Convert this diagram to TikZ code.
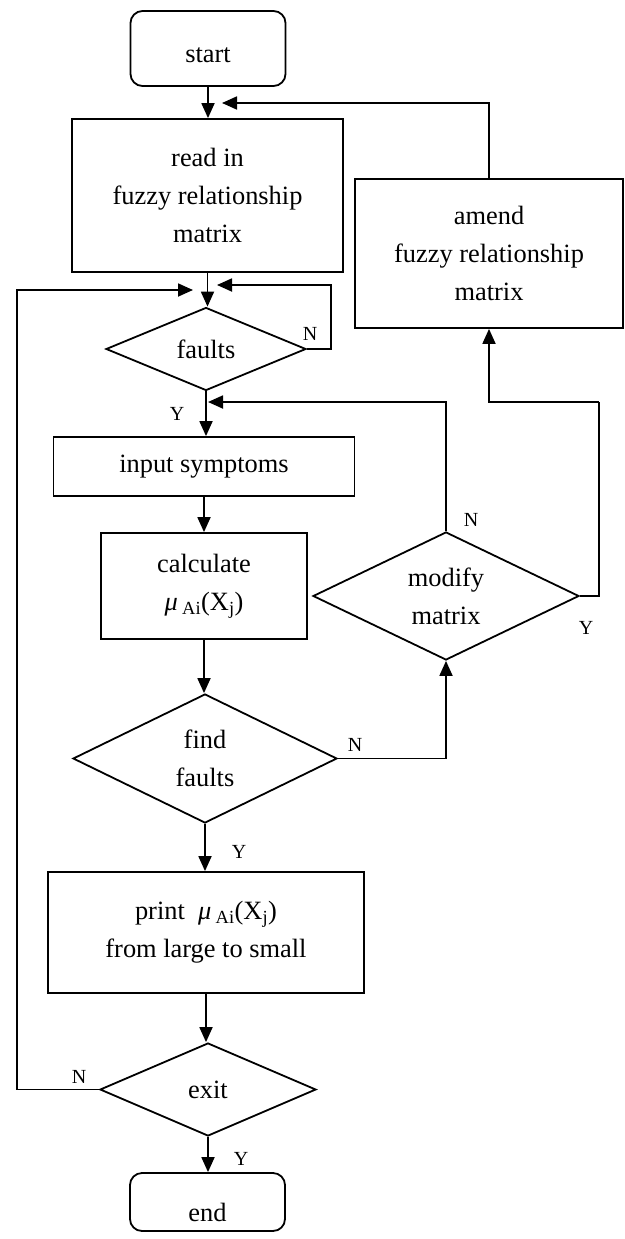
\documentclass[tikz,border=0pt]{standalone}
\usepackage{fontspec}
\setmainfont{Liberation Serif}
\usetikzlibrary{arrows.meta,shapes.geometric}
\begin{document}
\begin{tikzpicture}[x=1pt,y=-1pt,
  every node/.style={font=\fontsize{26.4}{38}\selectfont, inner sep=0pt, align=center},
  box/.style={draw, line width=1.8pt, rectangle},
  term/.style={draw, line width=1.8pt, rectangle, rounded corners=12pt},
  dec/.style={draw, line width=1.8pt, diamond},
  lbl/.style={font=\fontsize{20}{20}\selectfont},
  arr/.style={line width=1.8pt, -{Triangle[length=15pt,width=13pt]}},
  ln/.style={line width=1.8pt}]
\useasboundingbox (0,0) rectangle (624,1239);

\node[term, minimum width=155pt, minimum height=75pt, text height=28pt, text depth=0pt] (start) at (208,48.5) {start};
\node[box, minimum width=271pt, minimum height=153pt] (read) at (207.5,195.5) {read in\\fuzzy relationship\\matrix};
\node[dec, minimum width=200pt, minimum height=83pt, shape aspect=2.4] (faults) at (206,349) {faults};
\node[box, minimum width=301pt, minimum height=59pt] (input) at (204,466.5) {input symptoms};
\node[box, minimum width=206pt, minimum height=106pt] (calc) at (204,586) {calculate\\{\itshape μ}\,\textsubscript{Ai}(X\textsubscript{j})};
\node[dec, minimum width=264pt, minimum height=129pt, shape aspect=2] (find) at (205,758.5) {find\\faults};
\node[dec, minimum width=266pt, minimum height=128pt, shape aspect=2] (modify) at (446,596) {modify\\matrix};
\node[box, minimum width=268pt, minimum height=149pt] (amend) at (489,253.5) {amend\\fuzzy relationship\\matrix};
\node[box, minimum width=316pt, minimum height=121pt] (print) at (206,932.5) {print\ \ {\itshape μ}\,\textsubscript{Ai}(X\textsubscript{j})\\from large to small};
\node[dec, minimum width=216pt, minimum height=93pt, shape aspect=2.3] (exit) at (208,1089.5) {exit};
\node[term, minimum width=155pt, minimum height=58pt, text height=38pt, text depth=0pt] (end) at (207.5,1202) {end};

\coordinate (j1) at (222,103);
\coordinate (lx) at (17,290);
\coordinate (j2) at (193,290);
\coordinate (rx) at (331,285);
\coordinate (j3) at (217,285);
\coordinate (j4) at (208,402);
\coordinate (m1) at (599,402);

\draw[arr] (start.south) -- (start.south |- read.north);
\draw[arr] (amend.north) |- (j1);
\draw[arr] (read.south) -- (read.south |- faults.north);
\draw[arr] (exit.west) -| (lx) -- (j2);
\draw[arr] (faults.east) -| (rx) -- (j3);
\draw[arr] (faults.south) -- (faults.south |- input.north);
\draw[arr] (modify.north) |- (j4);
\draw[arr] (input.south) -- (input.south |- calc.north);
\draw[arr] (calc.south) -- (calc.south |- find.north);
\draw[arr] (find.east) -| (modify.south);
\draw[ln] (modify.east) -| (m1);
\draw[arr] (m1) -| (amend.south);
\draw[arr] (find.south) -- (find.south |- print.north);
\draw[arr] (print.south) -- (print.south |- exit.north);
\draw[arr] (exit.south) -- (exit.south |- end.north);

\node[lbl] (nf) at (310,334) {N};
\node[lbl] (yf) at (177,414) {Y};
\node[lbl] (nm) at (471,520) {N};
\node[lbl] (ym) at (586,628) {Y};
\node[lbl] (nfd) at (355,745) {N};
\node[lbl] (yfd) at (239,852) {Y};
\node[lbl] (ne) at (79,1077) {N};
\node[lbl] (ye) at (241,1159) {Y};
\end{tikzpicture}
\end{document}
